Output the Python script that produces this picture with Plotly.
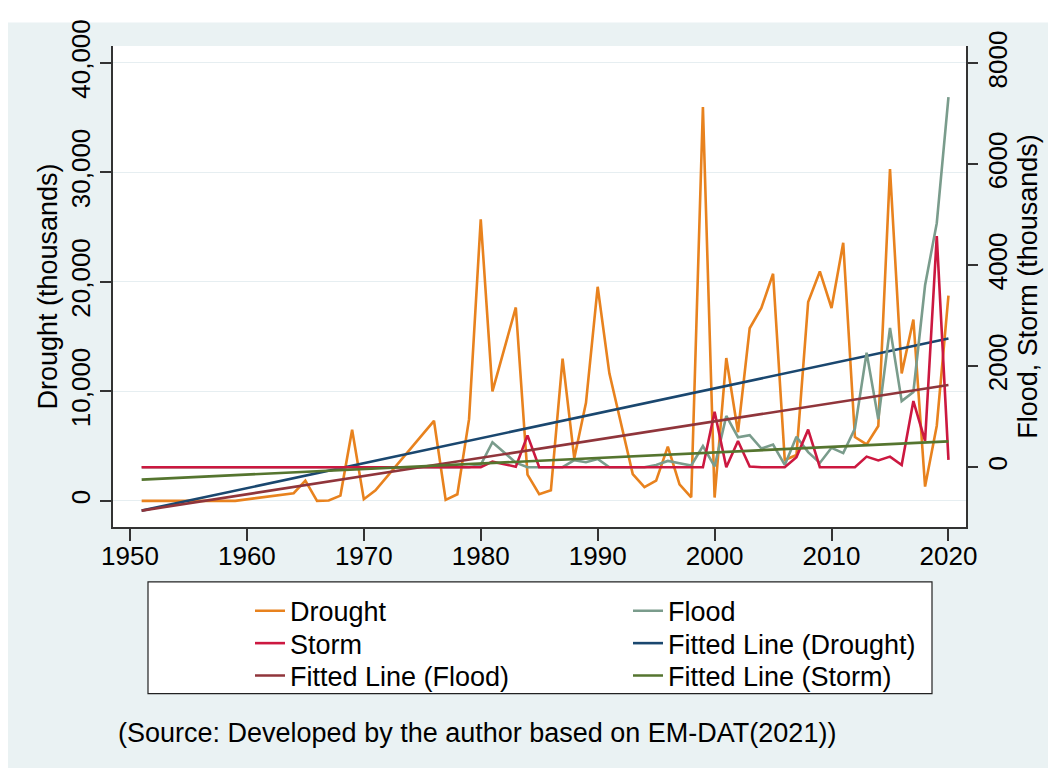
import plotly.graph_objects as go

# ---------------- data ----------------
years = [1951, 1959, 1964, 1965, 1966, 1967, 1968, 1969, 1970, 1971,
         1976, 1977, 1978, 1979, 1980, 1981, 1983, 1984, 1985, 1986,
         1987, 1988, 1989, 1990, 1991, 1993, 1994, 1995, 1996, 1997,
         1998, 1999, 2000, 2001, 2002, 2003, 2004, 2005, 2006, 2007,
         2008, 2009, 2010, 2011, 2012, 2013, 2014, 2015, 2016, 2017,
         2018, 2019, 2020]

drought = [0, 0, 700, 1850, 0, 30, 480, 6500, 150, 960,
           7310, 90, 600, 7460, 25720, 10000, 17660, 2390, 600, 960,
           12980, 3880, 8950, 19550, 11640, 2450, 1250, 1850, 4950, 1500,
           320, 35960, 300, 13040, 6270, 15760, 17610, 20740, 3730, 4180,
           18150, 20950, 17610, 23570, 5820, 5150, 6830, 30290, 11640, 16560,
           1300, 6860, 18740]

flood = [0, 0, 0, 0, 0, 0, 0, 0, 0, 0,
         0, 0, 0, 0, 45, 495, 90, 0, 0, 0,
         0, 140, 100, 165, 0, 0, 0, 45, 125, 80,
         35, 420, 15, 1015, 595, 635, 370, 450, 45, 605,
         300, 85, 385, 280, 765, 2270, 950, 2760, 1310, 1490,
         3605, 4835, 7330]

storm = [0, 0, 0, 0, 0, 0, 0, 0, 0, 0,
         0, 0, 0, 0, 0, 110, 10, 630, 0, 0,
         0, 0, 0, 0, 0, 0, 0, 0, 0, 0,
         0, 0, 1100, 0, 520, 15, 0, 0, 0, 200,
         745, 0, 0, 0, 0, 210, 135, 210, 45, 1310,
         520, 4580, 145]

fit_years = [1951, 2020]
fit_drought = [-895, 14830]
fit_flood = [-860, 1630]
fit_storm = [-245, 513]

x_ticks = [1950, 1960, 1970, 1980, 1990, 2000, 2010, 2020]
left_ticks = [0, 10000, 20000, 30000, 40000]
right_ticks = [0, 2000, 4000, 6000, 8000]

# ---------------- figure ----------------
FONT = "Liberation Sans, Arial, sans-serif"
BG = "#EAF2F3"
OFF = 8                       # page body margin
W, H = 1056 - OFF, 773 - OFF
ML, MR, MT, MB = 113 - OFF, 1056 - 966, 36 - OFF, 773 - 527
PW, PH = W - ML - MR, H - MT - MB


def px_x(p):  # screen x (reference pixels) -> paper x
    return (p - OFF - ML) / PW


def px_y(p):  # screen y (reference pixels) -> paper y
    return (H - MB - (p - OFF)) / PH


fig = go.Figure()
lw = 2.6
fig.add_trace(go.Scatter(x=years, y=drought, name="Drought", mode="lines", legend="legend",
                         line=dict(color="#E8821E", width=lw), yaxis="y"))
fig.add_trace(go.Scatter(x=years, y=flood, name="Flood", mode="lines", legend="legend",
                         line=dict(color="#7A9C8C", width=lw), yaxis="y2"))
fig.add_trace(go.Scatter(x=years, y=storm, name="Storm", mode="lines", legend="legend2",
                         line=dict(color="#CC1840", width=lw), yaxis="y2"))
fig.add_trace(go.Scatter(x=fit_years, y=fit_drought, name="Fitted Line (Drought)", mode="lines",
                         legend="legend2", line=dict(color="#1A476F", width=lw), yaxis="y"))
fig.add_trace(go.Scatter(x=fit_years, y=fit_flood, name="Fitted Line (Flood)", mode="lines",
                         legend="legend3", line=dict(color="#90353B", width=lw), yaxis="y2"))
fig.add_trace(go.Scatter(x=fit_years, y=fit_storm, name="Fitted Line (Storm)", mode="lines",
                         legend="legend3", line=dict(color="#55752F", width=lw), yaxis="y2"))

axis_common = dict(showline=True, linecolor="#333333", linewidth=1.5,
                   ticks="outside", tickwidth=1.5, tickcolor="#333333",
                   tickfont=dict(family=FONT, size=26, color="black"), zeroline=False)


def row_legend(top):
    return dict(orientation="h", x=px_x(250), y=px_y(top), xanchor="left", yanchor="top",
                bgcolor="rgba(0,0,0,0)", borderwidth=0,
                font=dict(family=FONT, size=27, color="black"),
                entrywidth=333, tracegroupgap=0, traceorder="normal")


fig.update_layout(
    width=W, height=H,
    margin=dict(l=ML, r=MR, t=MT, b=MB, pad=0),
    paper_bgcolor="white",
    plot_bgcolor="white",
    font=dict(family=FONT, size=26, color="black"),
    showlegend=True,
    xaxis=dict(range=[1948.55, 2021.5], tickvals=x_ticks, showgrid=False, ticklen=12,
               ticklabelstandoff=-7, **axis_common),
    yaxis=dict(range=[-2390, 41540], tickvals=left_ticks, tickformat=",", tickangle=-90,
               showgrid=True, gridcolor="#E6EEF1", gridwidth=1.2, ticklen=11,
               title=dict(text="Drought (thousands)", font=dict(family=FONT, size=27), standoff=0),
               **axis_common),
    yaxis2=dict(range=[-1184, 8344], tickvals=right_ticks, tickformat="d", tickangle=-90,
                overlaying="y", side="right", showgrid=False, ticklen=10,
                ticklabelstandoff=-2,
                title=dict(text="Flood, Storm (thousands)", font=dict(family=FONT, size=27), standoff=0),
                **axis_common),
    legend=row_legend(588),
    legend2=row_legend(621),
    legend3=row_legend(654),
    shapes=[
        dict(type="rect", xref="paper", yref="paper", layer="below",
             x0=px_x(8), x1=px_x(1056), y0=px_y(773), y1=px_y(12),
             fillcolor=BG, line=dict(width=0)),
        dict(type="rect", xref="x domain", yref="y domain", layer="below",
             x0=0, x1=1, y0=0, y1=1, fillcolor="white", line=dict(width=0)),
        dict(type="rect", xref="paper", yref="paper", layer="below",
             x0=px_x(148), x1=px_x(932), y0=px_y(697), y1=px_y(583),
             fillcolor="white", line=dict(color="#222222", width=1.2)),
    ],
    annotations=[
        dict(text="(Source: Developed by the author based on EM-DAT(2021))",
             xref="paper", yref="paper", x=px_x(116), y=px_y(737),
             xanchor="left", yanchor="middle", showarrow=False,
             font=dict(family=FONT, size=27, color="black")),
    ],
)

fig.write_html("out.html")
